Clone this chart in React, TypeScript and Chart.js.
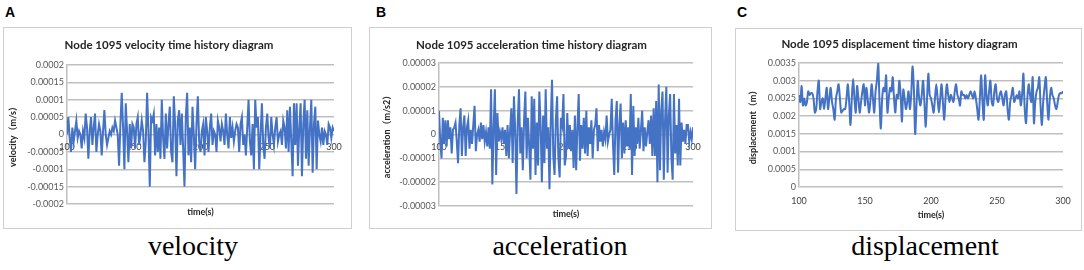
import React, { useEffect, useRef } from "react";
import { Chart, registerables } from "chart.js";

Chart.register(...registerables);

// ---------- data ----------
const T_START = 100;
const T_STEP = 1;
const timeTicks = [100, 150, 200, 250, 300];

const velocity = [
  0, 5e-5, -1e-5, -5e-5, 2e-5, -2e-5, 1e-5, 4e-5, -1e-5, 1e-5,
  0, -4e-5, 1e-5, -1e-5, 6e-5, 2e-5, -7e-5, 1e-5, 5e-5, -3e-5,
  2e-5, 6e-5, -5e-5, 0, 3e-5, 1e-5, -6e-5, 1e-5, 7e-5, 0,
  -3e-5, -1e-5, 1e-5, 0, 2e-5, 1e-5, 4e-5, 2e-5, 0, -9e-5,
  3e-5, 12e-5, 2e-5, -10e-5, 9e-5, 1e-5, -8e-5, 3e-5, -4e-5, 3e-5,
  2e-5, -4e-5, 3e-5, 5e-5, -3e-5, 0, 4e-5, 1e-5, -8e-5, -2e-5,
  12e-5, 1e-5, -15e-5, 5e-5, 4e-5, 6e-5, -6e-5, 3e-5, -5e-5, 2e-5,
  -7e-5, 10e-5, -1e-5, -7e-5, 6e-5, -4e-5, 3e-5, 8e-5, -5e-5, -8e-5,
  11e-5, 3e-5, -12e-5, 4e-5, 7e-5, -3e-5, 6e-5, -4e-5, -15e-5, 5e-5,
  12e-5, -6e-5, 2e-5, -8e-5, 8e-5, 0, -10e-5, 3e-5, 11e-5, -2e-5,
  -5e-5, 1e-5, 3e-5, -6e-5, 5e-5, 1e-5, -5e-5, 2e-5, 6e-5, -3e-5,
  1e-5, 0, -5e-5, 4e-5, 2e-5, -2e-5, 3e-5, 1e-5, -3e-5, 6e-5,
  0, -4e-5, 5e-5, -1e-5, 2e-5, -2e-5, 1e-5, 3e-5, 2e-5, -5e-5,
  3e-5, 5e-5, -3e-5, 0, -6e-5, 2e-5, 10e-5, -2e-5, -6e-5, 3e-5,
  -10e-5, 10e-5, 2e-5, 5e-5, -10e-5, 0, 9e-5, -3e-5, -7e-5, 2e-5,
  6e-5, -1e-5, -4e-5, 5e-5, 0, -3e-5, 2e-5, 5e-5, -2e-5, 0,
  1e-5, -3e-5, 4e-5, 2e-5, -4e-5, 7e-5, -5e-5, 8e-5, -2e-5, -12e-5,
  9e-5, -3e-5, 9e-5, -9e-5, 2e-5, 9e-5, -12e-5, 3e-5, 10e-5, -7e-5,
  7e-5, -9e-5, 2e-5, 10e-5, -11e-5, 3e-5, 8e-5, -10e-5, 4e-5, 0,
  -2e-5, 2e-5, -3e-5, 1e-5, 0, -3e-5, 3e-5, 2e-5, -1e-5, 2e-5,
  1e-5,
];

const acceleration = [
  10e-6, -3e-6, -10e-6, 7e-6, -4e-6, 6e-6, -5e-6, 6e-6, -2e-6, 3e-6,
  -8e-6, 2e-6, 3e-6, 5e-6, -3e-6, -12e-6, 4e-6, 11e-6, -9e-6, 3e-6,
  8e-6, -9e-6, 3e-6, 6e-6, -6e-6, 2e-6, -4e-6, 4e-6, 12e-6, -7e-6,
  0, 2e-6, -3e-6, 5e-6, -2e-6, 4e-6, -3e-6, 1e-6, -5e-6, 3e-6,
  -6e-6, 19e-6, -21e-6, 2e-6, 19e-6, -17e-6, 9e-6, -3e-6, 1e-6, -2e-6,
  3e-6, -4e-6, 2e-6, -9e-6, 4e-6, -10e-6, 2e-6, 11e-6, -12e-6, 16e-6,
  2e-6, -25e-6, 5e-6, 19e-6, -8e-6, 3e-6, -15e-6, 6e-6, 18e-6, -10e-6,
  7e-6, -5e-6, -19e-6, 16e-6, -6e-6, 15e-6, -17e-6, 5e-6, -13e-6, 18e-6,
  4e-6, -20e-6, 8e-6, -12e-6, 19e-6, -6e-6, 3e-6, -23e-6, 5e-6, 23e-6,
  -9e-6, -17e-6, 6e-6, 16e-6, -10e-6, -18e-6, 7e-6, 4e-6, 17e-6, -13e-6,
  -9e-6, 9e-6, -6e-6, 4e-6, -7e-6, 2e-6, -14e-6, 8e-6, -15e-6, 3e-6,
  17e-6, -11e-6, 4e-6, -6e-6, 7e-6, -8e-6, 10e-6, -9e-6, 3e-6, -4e-6,
  6e-6, -10e-6, 2e-6, 4e-6, 11e-6, -7e-6, 4e-6, -3e-6, 2e-6, -5e-6,
  1e-6, -2e-6, 8e-6, -3e-6, 0, 2e-6, 15e-6, -4e-6, -17e-6, 6e-6,
  14e-6, -16e-6, 4e-6, 13e-6, -10e-6, 5e-6, -8e-6, 6e-6, -5e-6, 3e-6,
  -6e-6, 17e-6, -17e-6, 12e-6, -9e-6, 3e-6, -4e-6, 7e-6, -6e-6, 2e-6,
  10e-6, -7e-6, 3e-6, -5e-6, 1e-6, 6e-6, -4e-6, 8e-6, -9e-6, 11e-6,
  -9e-6, 14e-6, -20e-6, 21e-6, -15e-6, 10e-6, 18e-6, -19e-6, 6e-6, 20e-6,
  -16e-6, 8e-6, 17e-6, -10e-6, -19e-6, 17e-6, -8e-6, 4e-6, -13e-6, 15e-6,
  -13e-6, 5e-6, -3e-6, 2e-6, -4e-6, 4e-6, 4e-6, -3e-6, 1e-6, -2e-6,
  3e-6,
];

const displacement = [
  0.0026, 0.0024, 0.00285, 0.0023, 0.0025, 0.0023, 0.0024, 0.0027, 0.0026, 0.00265,
  0.00265, 0.0025, 0.0021, 0.0022, 0.0027, 0.003, 0.0022, 0.0024, 0.0025, 0.0022,
  0.0025, 0.0028, 0.0022, 0.0025, 0.0028, 0.0024, 0.0022, 0.0019, 0.0025, 0.0027,
  0.0029, 0.0025, 0.0021, 0.00215, 0.0022, 0.0022, 0.0025, 0.0029, 0.0024, 0.00175,
  0.0025, 0.00305, 0.0025, 0.0021, 0.00285, 0.0025, 0.0021, 0.0024, 0.0027, 0.0029,
  0.0023, 0.0028, 0.0025, 0.0021, 0.0024, 0.0029, 0.0025, 0.0021, 0.0027, 0.003,
  0.0035, 0.0024, 0.00165, 0.0025, 0.0028, 0.0027, 0.00315, 0.0021, 0.0025, 0.0028,
  0.0027, 0.0031, 0.0025, 0.0021, 0.0026, 0.0025, 0.003, 0.0026, 0.00185, 0.00275,
  0.0025, 0.0022, 0.0024, 0.0027, 0.0022, 0.0026, 0.0034, 0.0028, 0.0015, 0.0023,
  0.003, 0.0025, 0.0023, 0.0026, 0.003, 0.0024, 0.0017, 0.0025, 0.0032, 0.0026,
  0.0025, 0.0023, 0.0021, 0.0025, 0.0029, 0.0025, 0.0021, 0.0025, 0.0029, 0.0024,
  0.0019, 0.0025, 0.0029, 0.0026, 0.0024, 0.0026, 0.0025, 0.0024, 0.0027, 0.0029,
  0.0026, 0.0025, 0.0023, 0.0027, 0.0026, 0.0026, 0.0025, 0.0026, 0.0025, 0.0026,
  0.0027, 0.0026, 0.0025, 0.0027, 0.0025, 0.0022, 0.0019, 0.0025, 0.00315, 0.0024,
  0.0019, 0.00315, 0.0026, 0.0023, 0.0027, 0.003, 0.0024, 0.0023, 0.0027, 0.0029,
  0.0025, 0.0024, 0.0026, 0.0027, 0.0025, 0.0023, 0.0026, 0.0027, 0.0022, 0.0019,
  0.0024, 0.0026, 0.0028, 0.0024, 0.0025, 0.0026, 0.0025, 0.0027, 0.0023, 0.0026,
  0.0032, 0.0022, 0.0018, 0.0025, 0.0029, 0.0026, 0.0024, 0.0031, 0.0018, 0.0024,
  0.0027, 0.0028, 0.0031, 0.0023, 0.00175, 0.0024, 0.0028, 0.0031, 0.0024, 0.0019,
  0.0025, 0.0028, 0.0026, 0.0025, 0.0023, 0.0022, 0.0024, 0.0026, 0.00265, 0.00265,
  0.0027,
];

const velocityTicks = [-0.0002, -0.00015, -0.0001, -0.00005, 0, 0.00005, 0.0001, 0.00015, 0.0002];
const accelerationTicks = [-0.00003, -0.00002, -0.00001, 0, 0.00001, 0.00002, 0.00003];
const displacementTicks = [0, 0.0005, 0.001, 0.0015, 0.002, 0.0025, 0.003, 0.0035];

const chartTitles = [
  "Node 1095 velocity time history diagram",
  "Node 1095 acceleration time history diagram",
  "Node 1095 displacement time history diagram",
];
const yTitles = ["velocity（m/s）", "acceleration（m/s2）", "displacement（m）"];
const xTitle = "time(s)";
const captions = ["velocity", "acceleration", "displacement"];
const letters = ["A", "B", "C"];

// ---------- styling ----------
const FONT = 'Lato, "Noto Sans CJK SC", sans-serif';
const GRID = "#bfbfbf";
const LINE = "#4472c4";
const TITLE_SIZE = 11.5;
const AXIS_SIZE = 9;

type PanelCfg = {
  letterX: number;
  boxX: number; boxY: number; boxW: number; boxH: number;
  plotLeft: number; plotRight: number; plotTop: number; plotBottom: number;
  titleY: number; yTitleX: number; xTitleY: number; xLabelPad: number;
  xAtZero: boolean; tension: number; captionX: number;
};

const panelCfgs: PanelCfg[] = [
  { letterX: 5, boxX: 3, boxY: 27, boxW: 349, boxH: 202, plotLeft: 63, plotRight: 330, plotTop: 37, plotBottom: 176,
    titleY: 17, yTitleX: 9, xTitleY: 184, xLabelPad: 7.5, xAtZero: true, tension: 0, captionX: 193 },
  { letterX: 376, boxX: 369, boxY: 27, boxW: 343, boxH: 202, plotLeft: 69, plotRight: 323, plotTop: 35, plotBottom: 178,
    titleY: 17, yTitleX: 17, xTitleY: 186, xLabelPad: 7.5, xAtZero: true, tension: 0, captionX: 560 },
  { letterX: 737, boxX: 735, boxY: 28, boxW: 347, boxH: 203, plotLeft: 63, plotRight: 327, plotTop: 34, plotBottom: 158,
    titleY: 15.5, yTitleX: 17, xTitleY: 186, xLabelPad: 8.5, xAtZero: false, tension: 0.3, captionX: 925 },
];

const seriesList = [velocity, acceleration, displacement];
const tickList = [velocityTicks, accelerationTicks, displacementTicks];

function ChartBox({ idx }: { idx: number }) {
  const ref = useRef<HTMLCanvasElement>(null);
  const cfg = panelCfgs[idx];
  const W = cfg.boxW - 2;
  const H = cfg.boxH - 2;

  useEffect(() => {
    const canvas = ref.current;
    if (!canvas) return;
    const values = seriesList[idx];
    const yTicks = tickList[idx];
    const points = values.map((v, i) => ({ x: T_START + i * T_STEP, y: v }));
    const titleLH = TITLE_SIZE * 1.2;
    const axisLH = AXIS_SIZE * 1.2;
    const tPadTop = cfg.titleY - titleLH / 2;
    const tPadBottom = cfg.plotTop - tPadTop - titleLH;
    const bottomSpace = H - cfg.plotBottom;
    const xTitleCfg = {
      display: true,
      text: xTitle,
      color: "#262626",
      font: { family: FONT, size: AXIS_SIZE, weight: "bold" },
      padding: { top: 0, bottom: H - cfg.xTitleY - axisLH / 2 },
    };
    const xTickCfg = {
      padding: cfg.xLabelPad,
      color: "#404040",
      font: { family: FONT, size: AXIS_SIZE },
      maxRotation: 0,
      autoSkip: false,
    };

    const scales: any = {
      y: {
        type: "linear",
        min: yTicks[0],
        max: yTicks[yTicks.length - 1],
        afterFit: (s: any) => { s.width = cfg.plotLeft; },
        afterBuildTicks: (s: any) => { s.ticks = yTicks.map((v) => ({ value: v })); },
        ticks: {
          callback: (v: any) => String(v),
          padding: 3,
          color: "#595959",
          font: { family: FONT, size: AXIS_SIZE },
        },
        grid: { color: GRID, lineWidth: 1.5, drawTicks: false, tickLength: 0 },
        border: { display: true, color: GRID, width: 1.5 },
        title: {
          display: true,
          text: yTitles[idx],
          color: "#262626",
          font: { family: FONT, size: AXIS_SIZE, weight: "bold" },
          padding: { top: cfg.yTitleX - axisLH / 2, bottom: 0 },
        },
      },
    };

    if (cfg.xAtZero) {
      scales.x = {
        type: "linear",
        position: { y: 0 },
        min: timeTicks[0],
        max: timeTicks[timeTicks.length - 1],
        afterFit: (s: any) => { s.height = 0; },
        afterBuildTicks: (s: any) => { s.ticks = timeTicks.map((v) => ({ value: v })); },
        ticks: xTickCfg,
        grid: { display: false, drawTicks: false, tickLength: 0 },
        border: { display: false },
      };
      scales.x2 = {
        type: "linear",
        position: "bottom",
        min: timeTicks[0],
        max: timeTicks[timeTicks.length - 1],
        afterFit: (s: any) => { s.height = bottomSpace; },
        ticks: { display: false },
        grid: { display: false, drawTicks: false, tickLength: 0 },
        border: { display: false },
        title: xTitleCfg,
      };
    } else {
      scales.x = {
        type: "linear",
        position: "bottom",
        min: timeTicks[0],
        max: timeTicks[timeTicks.length - 1],
        afterFit: (s: any) => { s.height = bottomSpace; },
        afterBuildTicks: (s: any) => { s.ticks = timeTicks.map((v) => ({ value: v })); },
        ticks: xTickCfg,
        grid: { display: false, drawTicks: false, tickLength: 0 },
        border: { display: false },
        title: xTitleCfg,
      };
    }

    const chart = new Chart(canvas, {
      type: "line",
      data: {
        datasets: [
          {
            data: points,
            borderColor: LINE,
            backgroundColor: LINE,
            borderWidth: 2,
            pointRadius: 0,
            tension: cfg.tension,
            fill: false,
            xAxisID: "x",
            yAxisID: "y",
          },
        ],
      },
      options: {
        animation: false,
        responsive: false,
        devicePixelRatio: 1,
        layout: { padding: { left: 0, top: 0, bottom: 0, right: W - cfg.plotRight } },
        plugins: {
          legend: { display: false },
          tooltip: { enabled: false },
          title: {
            display: true,
            text: chartTitles[idx],
            color: "#262626",
            font: { family: FONT, size: TITLE_SIZE, weight: "bold" },
            padding: { top: tPadTop, bottom: tPadBottom },
          },
        },
        scales,
      } as any,
    });
    return () => chart.destroy();
  }, [idx]);

  return <canvas ref={ref} width={W} height={H} style={{ display: "block", width: W, height: H }} />;
}

function Panel({ idx }: { idx: number }) {
  const cfg = panelCfgs[idx];
  return (
    <>
      <div
        style={{
          position: "absolute", left: cfg.letterX, top: 4, fontFamily: '"Liberation Sans", Arial, sans-serif',
          fontWeight: "bold", fontSize: 14, lineHeight: "16px", color: "#000",
        }}
      >
        {letters[idx]}
      </div>
      <div
        style={{
          position: "absolute", left: cfg.boxX, top: cfg.boxY, width: cfg.boxW, height: cfg.boxH,
          boxSizing: "border-box", border: "1px solid #cfcfcf", background: "#fff",
        }}
      >
        <ChartBox idx={idx} />
      </div>
      <div
        style={{
          position: "absolute", left: cfg.captionX - 100, width: 200, top: 231, textAlign: "center",
          fontFamily: '"Liberation Serif", "Times New Roman", serif', fontSize: 28, lineHeight: "30px", color: "#000",
        }}
      >
        {captions[idx]}
      </div>
    </>
  );
}

export default function App() {
  return (
    <div style={{ position: "absolute", left: 0, top: 0, width: 1084, height: 270, background: "#fff", overflow: "hidden" }}>
      <Panel idx={0} />
      <Panel idx={1} />
      <Panel idx={2} />
    </div>
  );
}
